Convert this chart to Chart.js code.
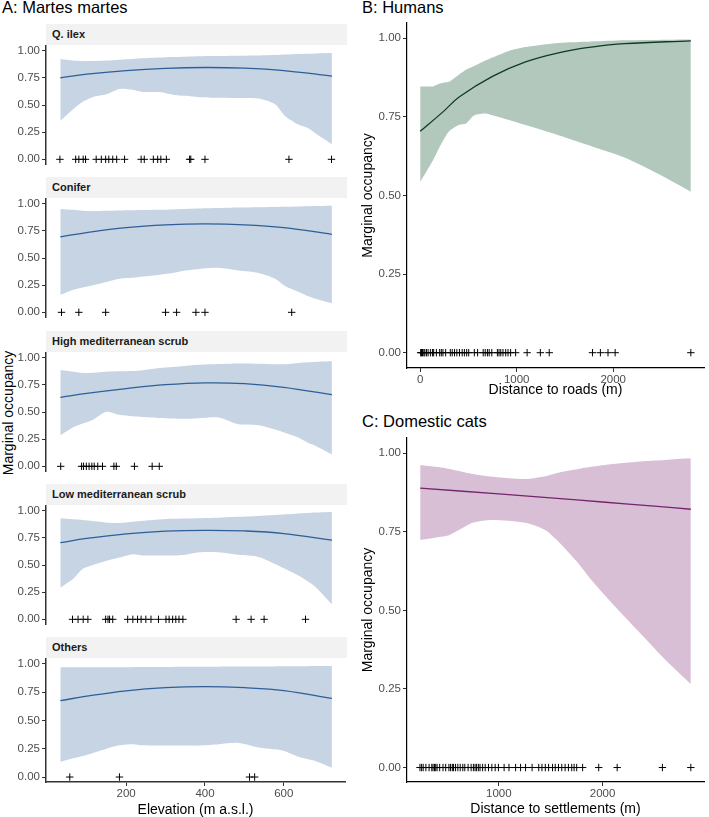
<!DOCTYPE html>
<html>
<head>
<meta charset="utf-8">
<script src="https://cdn.jsdelivr.net/npm/chart.js@4.4.0/dist/chart.umd.min.js"></script>
<style>
  body { margin: 0; background: #fff; }
  #fig { position: relative; width: 709px; height: 817px; overflow: hidden; font-family: "Liberation Sans", Arial, sans-serif; }
  canvas { position: absolute; }
  .title { position: absolute; font-size: 16.5px; line-height: 16.5px; color: #000; white-space: nowrap; }
  .strip { position: absolute; left: 46px; width: 301px; height: 21px; background: #F2F2F2; font-weight: bold; font-size: 11px; line-height: 21px; color: #1A1A1A; padding-left: 6px; box-sizing: border-box; white-space: nowrap; }
  .ylab { position: absolute; font-size: 14px; line-height: 14px; color: #000; white-space: nowrap; transform: translate(-50%, -50%) rotate(-90deg); }
</style>
</head>
<body>
<div id="fig">
  <div class="title" style="left:2px; top:-1px;">A: Martes martes</div>
  <div class="title" style="left:362px; top:-1px;">B: Humans</div>
  <div class="title" style="left:362px; top:413px;">C: Domestic cats</div>
  <div class="ylab" style="left:7.5px; top:413px;">Marginal occupancy</div>
</div>
<script>
// Panel A: elevation (m a.s.l.)
const elevGrid = [33, 66, 90, 116, 150, 183, 217, 242, 285, 318, 350, 385, 435, 485, 536, 578, 603, 637, 662, 680, 722];
const elevLineX = [33, 100, 200, 300, 400, 500, 600, 722];
const elevTicks = [200, 400, 600];
const occTicks = [0, 0.25, 0.5, 0.75, 1];

const habitats = ['Q. ilex', 'Conifer', 'High mediterranean scrub', 'Low mediterranean scrub', 'Others'];

const qilexUpper = [0.925, 0.91, 0.905, 0.905, 0.91, 0.918, 0.925, 0.93, 0.937, 0.942, 0.946, 0.95, 0.952, 0.954, 0.956, 0.96, 0.965, 0.97, 0.973, 0.976, 0.98];
const qilexLower = [0.354, 0.463, 0.53, 0.575, 0.6, 0.649, 0.64, 0.62, 0.62, 0.596, 0.585, 0.573, 0.568, 0.566, 0.56, 0.507, 0.40, 0.32, 0.286, 0.24, 0.139];
const qilexLine = [0.75, 0.785, 0.818, 0.838, 0.846, 0.84, 0.818, 0.767];
const qilexObs = [32, 72, 80, 91, 97, 124, 137, 148, 156, 166, 176, 196, 238, 246, 269, 280, 288, 302, 361, 364, 400, 613, 721];

const coniferUpper = [0.953, 0.945, 0.935, 0.932, 0.935, 0.938, 0.94, 0.942, 0.945, 0.948, 0.952, 0.956, 0.96, 0.965, 0.968, 0.97, 0.972, 0.975, 0.977, 0.979, 0.982];
const coniferLower = [0.16, 0.207, 0.228, 0.25, 0.28, 0.31, 0.318, 0.33, 0.347, 0.362, 0.385, 0.4, 0.41, 0.385, 0.363, 0.31, 0.243, 0.19, 0.148, 0.125, 0.083];
const coniferLine = [0.695, 0.735, 0.78, 0.805, 0.814, 0.806, 0.78, 0.719];
const coniferObs = [36, 80, 148, 300, 328, 377, 400, 620];

const highUpper = [0.888, 0.872, 0.86, 0.862, 0.872, 0.875, 0.878, 0.885, 0.905, 0.915, 0.925, 0.935, 0.942, 0.947, 0.945, 0.94, 0.94, 0.952, 0.958, 0.962, 0.967];
const highLower = [0.287, 0.361, 0.395, 0.43, 0.503, 0.475, 0.462, 0.455, 0.445, 0.44, 0.438, 0.444, 0.45, 0.388, 0.379, 0.34, 0.31, 0.265, 0.215, 0.19, 0.109];
const highLine = [0.636, 0.672, 0.716, 0.752, 0.769, 0.762, 0.728, 0.66];
const highObs = [34, 87, 92, 99, 106, 113, 119, 128, 140, 169, 175, 221, 266, 284];

const lowUpper = [0.932, 0.922, 0.915, 0.905, 0.89, 0.888, 0.9, 0.908, 0.92, 0.926, 0.929, 0.932, 0.936, 0.944, 0.952, 0.96, 0.967, 0.976, 0.98, 0.983, 0.988];
const lowLower = [0.291, 0.374, 0.465, 0.5, 0.54, 0.57, 0.6, 0.588, 0.588, 0.588, 0.595, 0.618, 0.618, 0.594, 0.575, 0.51, 0.465, 0.403, 0.345, 0.3, 0.138];
const lowLine = [0.706, 0.745, 0.787, 0.812, 0.82, 0.814, 0.79, 0.729];
const lowObs = [64, 78, 91, 103, 148, 154, 158, 166, 204, 217, 229, 238, 250, 263, 282, 301, 309, 318, 326, 334, 344, 479, 517, 550, 655];

const othersUpper = [0.97, 0.97, 0.97, 0.971, 0.971, 0.972, 0.972, 0.973, 0.973, 0.974, 0.975, 0.975, 0.976, 0.977, 0.978, 0.978, 0.979, 0.98, 0.98, 0.981, 0.982];
const othersLower = [0.133, 0.165, 0.185, 0.213, 0.25, 0.28, 0.29, 0.28, 0.278, 0.278, 0.278, 0.278, 0.29, 0.302, 0.262, 0.245, 0.228, 0.18, 0.158, 0.142, 0.083];
const othersLine = [0.675, 0.715, 0.762, 0.79, 0.799, 0.79, 0.765, 0.695];
const othersObs = [57, 183, 513, 526];

// Panel B: distance to roads (m)
const roadsGrid = [0, 133, 202, 270, 304, 373, 407, 475, 561, 681, 749, 920, 1091, 1433, 1775, 2117, 2459, 2804];
const roadsUpper = [0.847, 0.847, 0.856, 0.86, 0.863, 0.878, 0.886, 0.9, 0.912, 0.93, 0.939, 0.96, 0.972, 0.985, 0.99, 0.994, 0.995, 0.996];
const roadsLower = [0.543, 0.612, 0.655, 0.692, 0.705, 0.72, 0.725, 0.729, 0.755, 0.761, 0.755, 0.74, 0.724, 0.692, 0.657, 0.621, 0.57, 0.512];
const roadsLineX = [0, 236, 407, 749, 1091, 1433, 1775, 2117, 2804];
const roadsLine = [0.704, 0.766, 0.814, 0.879, 0.925, 0.954, 0.972, 0.983, 0.992];
const roadsObs = [5, 14, 24, 38, 48, 65, 82, 106, 127, 140, 168, 202, 219, 236, 264, 312, 332, 356, 380, 407, 435, 458, 482, 503, 561, 595, 653, 674, 697, 715, 742, 800, 817, 835, 858, 886, 910, 937, 989, 1108, 1245, 1337, 1785, 1867, 1946, 2020, 2804];
const roadsTicks = [0, 1000, 2000];

// Panel C: distance to settlements (m)
const settGrid = [242, 400, 525, 748, 938, 1256, 1447, 1574, 1765, 1892, 2100, 2400, 2600, 2851];
const settUpper = [0.963, 0.957, 0.95, 0.934, 0.925, 0.918, 0.927, 0.938, 0.95, 0.957, 0.966, 0.975, 0.979, 0.984];
const settLower = [0.724, 0.732, 0.74, 0.779, 0.788, 0.779, 0.756, 0.719, 0.65, 0.597, 0.52, 0.415, 0.345, 0.266];
const settLineX = [242, 1000, 1500, 2000, 2500, 2851];
const settLine = [0.889, 0.871, 0.858, 0.845, 0.832, 0.822];
const settObs = [240, 256, 271, 297, 328, 354, 366, 380, 392, 405, 430, 462, 488, 519, 535, 552, 564, 583, 605, 628, 653, 672, 704, 733, 755, 771, 786, 803, 819, 844, 869, 901, 933, 965, 996, 1051, 1098, 1162, 1210, 1258, 1321, 1385, 1416, 1448, 1480, 1518, 1544, 1575, 1607, 1639, 1671, 1703, 1726, 1751, 1808, 1963, 2141, 2577, 2851];
const settTicks = [1000, 2000];

Chart.defaults.font.family = '"Liberation Sans", Arial, sans-serif';

const fig = document.getElementById('fig');

function pts(xs, ys) {
  return xs.map((x, i) => ({ x: x, y: ys[i] }));
}

function makeChart(p) {
  const canvas = document.createElement('canvas');
  canvas.width = p.w;
  canvas.height = p.h;
  canvas.style.left = p.left + 'px';
  canvas.style.top = p.top + 'px';
  fig.appendChild(canvas);

  const axisGrid = { display: true, drawOnChartArea: false, drawTicks: true, tickLength: 4, color: '#333333', lineWidth: 1 };
  const tickFont = { size: 11.5 };

  // lower "order" is drawn on top: ribbon first, then curve, then the crosses
  return new Chart(canvas.getContext('2d'), {
    type: 'line',
    data: {
      datasets: [
        { data: pts(p.gridX, p.upper), order: 3, fill: '+1', backgroundColor: p.fill, borderColor: 'rgba(0,0,0,0)', borderWidth: 0, pointRadius: 0, tension: 0.25 },
        { data: pts(p.gridX, p.lower), order: 4, fill: false, borderColor: 'rgba(0,0,0,0)', borderWidth: 0, pointRadius: 0, tension: 0.25 },
        { data: pts(p.lineX, p.line), order: 1, fill: false, borderColor: p.lineColor, borderWidth: 1.3, pointRadius: 0, tension: 0.4 },
        { data: p.obs.map(x => ({ x: x, y: 0 })), order: 0, showLine: false, fill: false, pointStyle: 'cross', pointRadius: 3.7, borderColor: '#000', borderWidth: 1 }
      ]
    },
    options: {
      animation: false,
      responsive: false,
      layout: { padding: p.padding },
      plugins: { legend: { display: false }, tooltip: { enabled: false } },
      scales: {
        x: {
          type: 'linear',
          min: p.xMin,
          max: p.xMax,
          display: p.showX,
          afterBuildTicks: s => { s.ticks = p.xTicks.map(v => ({ value: v })); },
          afterFit: s => { s.height = p.showX ? p.xAxisH : 0; },
          grid: axisGrid,
          border: { display: true, color: p.axisColor, width: p.axisWidth },
          ticks: { color: '#4D4D4D', font: tickFont, padding: 1, maxRotation: 0, autoSkip: false, callback: v => String(v) },
          title: { display: true, text: p.xTitle, color: '#000', font: { size: 14, lineHeight: 1 }, padding: { top: 0, bottom: p.xTitlePad } }
        },
        y: {
          min: p.yMin,
          max: p.yMax,
          afterBuildTicks: s => { s.ticks = occTicks.map(v => ({ value: v })); },
          afterFit: s => { s.width = p.yAxisW; },
          grid: axisGrid,
          border: { display: true, color: p.axisColor, width: p.axisWidth },
          ticks: { color: '#4D4D4D', font: tickFont, padding: 2, callback: v => v.toFixed(2) },
          title: { display: p.showYTitle, text: 'Marginal occupancy', color: '#000', font: { size: 14, lineHeight: 1 }, padding: { top: p.yTitlePad, bottom: 0 } }
        }
      }
    }
  });
}

// Panel A facets
const facetUpper = [qilexUpper, coniferUpper, highUpper, lowUpper, othersUpper];
const facetLower = [qilexLower, coniferLower, highLower, lowLower, othersLower];
const facetLine = [qilexLine, coniferLine, highLine, lowLine, othersLine];
const facetObs = [qilexObs, coniferObs, highObs, lowObs, othersObs];

habitats.forEach((name, k) => {
  const plotTop = Math.round(46 + 153.25 * k);
  const last = k === habitats.length - 1;

  const strip = document.createElement('div');
  strip.className = 'strip';
  strip.style.top = (plotTop - 22) + 'px';
  strip.textContent = name;
  fig.appendChild(strip);

  makeChart({
    left: 0, top: plotTop - 10, w: 350, h: last ? 817 - (plotTop - 10) : 137,
    padding: { top: 10, right: 3, bottom: last ? 0 : 4, left: 0 },
    gridX: elevGrid, upper: facetUpper[k], lower: facetLower[k],
    lineX: elevLineX, line: facetLine[k], obs: facetObs[k],
    fill: '#C6D4E3', lineColor: '#2F5F98',
    xMin: -3.3, xMax: 755.2, xTicks: elevTicks, showX: last, xAxisH: 35,
    xTitle: 'Elevation (m a.s.l.)', xTitlePad: 0,
    yMin: -0.044, yMax: 1.044, yAxisW: 46,
    showYTitle: false, yTitlePad: 0,
    axisColor: '#333333', axisWidth: 1.5
  });
});

// Panel B
makeChart({
  left: 360, top: 13, w: 349, h: 387,
  padding: { top: 10, right: 2, bottom: 0, left: 0 },
  gridX: roadsGrid, upper: roadsUpper, lower: roadsLower,
  lineX: roadsLineX, line: roadsLine, obs: roadsObs,
  fill: '#B3C8BC', lineColor: '#0E3B1F',
  xMin: -136.4, xMax: 2940.4, xTicks: roadsTicks, showX: true, xAxisH: 32,
  xTitle: 'Distance to roads (m)', xTitlePad: 3,
  yMin: -0.0487, yMax: 1.0487, yAxisW: 47,
  showYTitle: true, yTitlePad: 1,
  axisColor: '#000000', axisWidth: 1.2
});

// Panel C
makeChart({
  left: 360, top: 428, w: 349, h: 389,
  padding: { top: 10, right: 2, bottom: 0, left: 0 },
  gridX: settGrid, upper: settUpper, lower: settLower,
  lineX: settLineX, line: settLine, obs: settObs,
  fill: '#D8BFD6', lineColor: '#74256D',
  xMin: 115, xMax: 2978, xTicks: settTicks, showX: true, xAxisH: 35,
  xTitle: 'Distance to settlements (m)', xTitlePad: 1,
  yMin: -0.046, yMax: 1.0487, yAxisW: 47,
  showYTitle: true, yTitlePad: 1,
  axisColor: '#000000', axisWidth: 1.2
});
</script>
</body>
</html>
